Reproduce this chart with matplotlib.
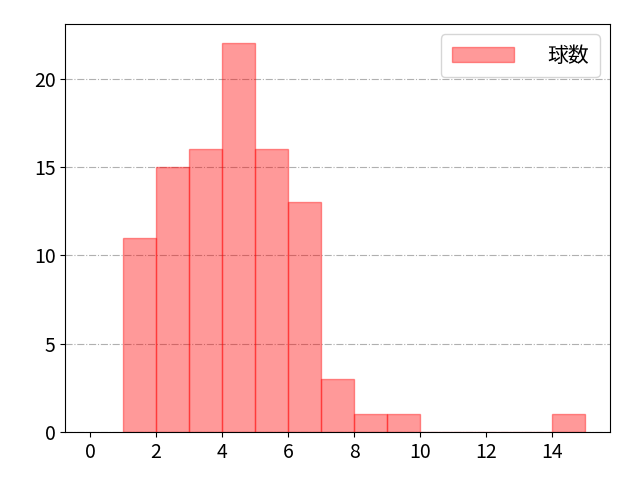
import numpy as np
import matplotlib
matplotlib.use('Agg')
import matplotlib.pyplot as plt

plt.rcParams['font.family'] = ['Noto Sans CJK JP', 'DejaVu Sans']

# ビンの左端と度数
bin_left = [1, 2, 3, 4, 5, 6, 7, 8, 9, 10, 11, 12, 13, 14]
counts = [11, 15, 16, 22, 16, 13, 3, 1, 1, 0, 0, 0, 0, 1]
edges = list(range(1, 16))
label = '球数'

fig, ax = plt.subplots(figsize=(6.4, 4.8), dpi=100)
ax.hist(bin_left, bins=edges, weights=counts, color='red', alpha=0.4,
        edgecolor='red', linewidth=1, label=label)
ax.set_xlim(-0.75, 15.75)
ax.set_xticks(range(0, 16, 2))
ax.set_yticks([0, 5, 10, 15, 20])
ax.tick_params(labelsize=14)
ax.grid(axis='y', linestyle='-.', color='#b0b0b0', linewidth=0.8)
ax.set_axisbelow(True)
ax.legend(fontsize=15, handlelength=3, handletextpad=1.6, borderpad=0.5)
plt.subplots_adjust(left=0.102, right=0.953, top=0.95, bottom=0.1)
plt.savefig('out.png')
